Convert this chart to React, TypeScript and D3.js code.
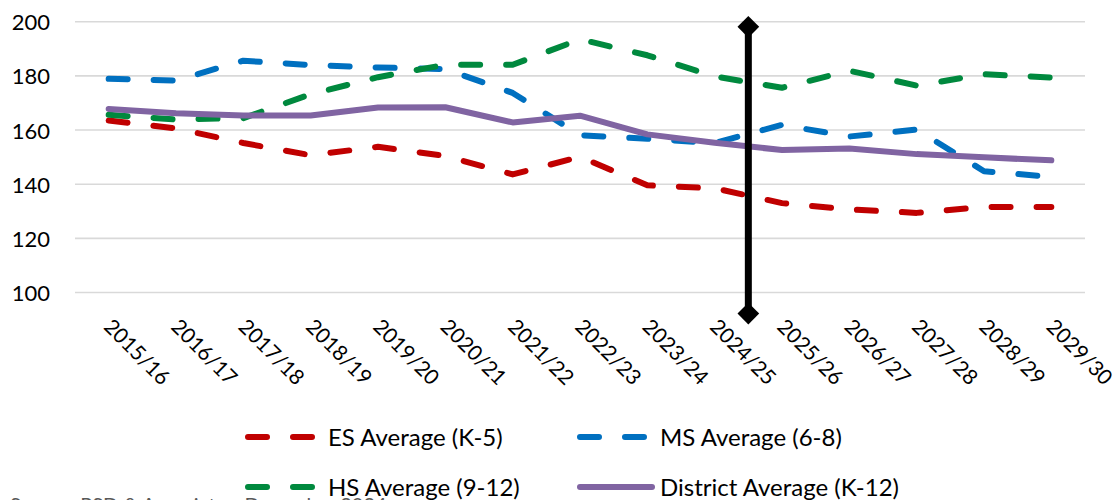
import { useEffect, useRef } from "react";
import * as d3 from "d3";

const categories = [
  "2015/16", "2016/17", "2017/18", "2018/19", "2019/20", "2020/21", "2021/22", "2022/23",
  "2023/24", "2024/25", "2025/26", "2026/27", "2027/28", "2028/29", "2029/30",
];

const esAvg = [163.5, 160.6, 155.2, 150.7, 153.8, 150.4, 143.6, 150.1, 139.6, 138.5, 133.0, 130.7, 129.4, 131.6, 131.6];
const msAvg = [178.9, 178.3, 185.6, 184.0, 183.1, 182.5, 173.7, 158.1, 156.8, 155.2, 161.9, 157.6, 160.2, 144.8, 142.7];
const hsAvg = [165.6, 163.9, 164.4, 173.2, 179.5, 184.1, 184.1, 193.5, 187.6, 179.8, 175.6, 181.9, 176.4, 180.6, 179.4];
const districtAvg = [167.8, 166.2, 165.4, 165.4, 168.3, 168.4, 162.8, 165.3, 158.4, 155.3, 152.6, 153.2, 151.1, 149.9, 148.8];

const yTicks = [100, 120, 140, 160, 180, 200];

// marker between 2024/25 and 2025/26 (category position 9.5)
const dividerPos = 9.5;
const dividerRange = [92.2, 198.1];

const SERIES = [
  { label: "ES Average (K-5)", values: esAvg, color: "#c00000", dashed: true },
  { label: "MS Average (6-8)", values: msAvg, color: "#0070c0", dashed: true },
  { label: "HS Average (9-12)", values: hsAvg, color: "#00893e", dashed: true },
  { label: "District Average (K-12)", values: districtAvg, color: "#8064a2", dashed: false },
];

const W = 1120;
const H = 500;
const PLOT = { left: 75, right: 1085, top: 21.7, bottom: 292.5 };
const FONT = "Lato, 'Open Sans', sans-serif";
const DASH = "19 26";

export default function App() {
  const svgRef = useRef<SVGSVGElement>(null);

  useEffect(() => {
    const svg = d3.select(svgRef.current);
    svg.selectAll("*").remove();

    svg.append("rect").attr("width", W).attr("height", H).attr("fill", "#ffffff");

    const xPos = d3.scaleLinear()
      .domain([-0.5, categories.length - 0.5])
      .range([PLOT.left, PLOT.right]);

    const yScale = d3.scaleLinear()
      .domain([100, 200])
      .range([PLOT.bottom, PLOT.top]);

    // Gridlines + y labels
    yTicks.forEach((t) => {
      svg.append("line")
        .attr("x1", PLOT.left)
        .attr("x2", PLOT.right)
        .attr("y1", yScale(t))
        .attr("y2", yScale(t))
        .attr("stroke", "#d9d9d9")
        .attr("stroke-width", 1.6);

      svg.append("text")
        .attr("x", 50)
        .attr("y", yScale(t))
        .attr("text-anchor", "end")
        .attr("dominant-baseline", "central")
        .attr("font-family", FONT)
        .attr("font-size", "22px")
        .attr("fill", "#000")
        .text(String(t));
    });

    // Category labels, rotated 45deg
    categories.forEach((c, i) => {
      const cx = xPos(i);
      svg.append("text")
        .attr("transform", `translate(${cx - 6},${328}) rotate(45)`)
        .attr("text-anchor", "start")
        .attr("font-family", FONT)
        .attr("font-size", "21px")
        .attr("fill", "#000")
        .text(c);
    });

    const lineGen = d3.line<number>()
      .x((_, i) => xPos(i))
      .y((d) => yScale(d));

    SERIES.forEach((s) => {
      svg.append("path")
        .datum(s.values)
        .attr("d", lineGen)
        .attr("fill", "none")
        .attr("stroke", s.color)
        .attr("stroke-width", 6)
        .attr("stroke-linecap", "round")
        .attr("stroke-linejoin", "round")
        .attr("stroke-dasharray", s.dashed ? DASH : null);
    });

    // Divider with diamond ends
    const dx = xPos(dividerPos);
    const yTop = yScale(dividerRange[1]);
    const yBot = yScale(dividerRange[0]);
    svg.append("line")
      .attr("x1", dx)
      .attr("x2", dx)
      .attr("y1", yTop)
      .attr("y2", yBot)
      .attr("stroke", "#000")
      .attr("stroke-width", 7);
    const diamond = d3.symbol().type(d3.symbolDiamond2).size(300);
    [yTop, yBot].forEach((y) => {
      svg.append("path")
        .attr("d", diamond)
        .attr("transform", `translate(${dx},${y})`)
        .attr("fill", "#000");
    });

    // Legend
    const legendPos = [
      { x: 248, y: 437 },
      { x: 580, y: 437 },
      { x: 248, y: 487 },
      { x: 580, y: 487 },
    ];
    SERIES.forEach((s, i) => {
      const p = legendPos[i];
      const len = s.dashed ? 64 : 72;
      svg.append("line")
        .attr("x1", p.x)
        .attr("x2", p.x + len)
        .attr("y1", p.y)
        .attr("y2", p.y)
        .attr("stroke", s.color)
        .attr("stroke-width", 6)
        .attr("stroke-linecap", "round")
        .attr("stroke-dasharray", s.dashed ? DASH : null);

      svg.append("text")
        .attr("x", p.x + 80)
        .attr("y", p.y + 9)
        .attr("font-family", FONT)
        .attr("font-size", "24px")
        .attr("fill", "#000")
        .text(s.label);
    });

    // Source note (cut off at the bottom edge, as in the original)
    svg.append("text")
      .attr("x", 10)
      .attr("y", 512)
      .attr("font-family", FONT)
      .attr("font-size", "20px")
      .attr("fill", "#595959")
      .text("Source: PSD & Associates, December 2024");
  }, []);

  return (
    <svg
      ref={svgRef}
      width={W}
      height={H}
      style={{ position: "absolute", left: 0, top: 0, display: "block" }}
    />
  );
}
